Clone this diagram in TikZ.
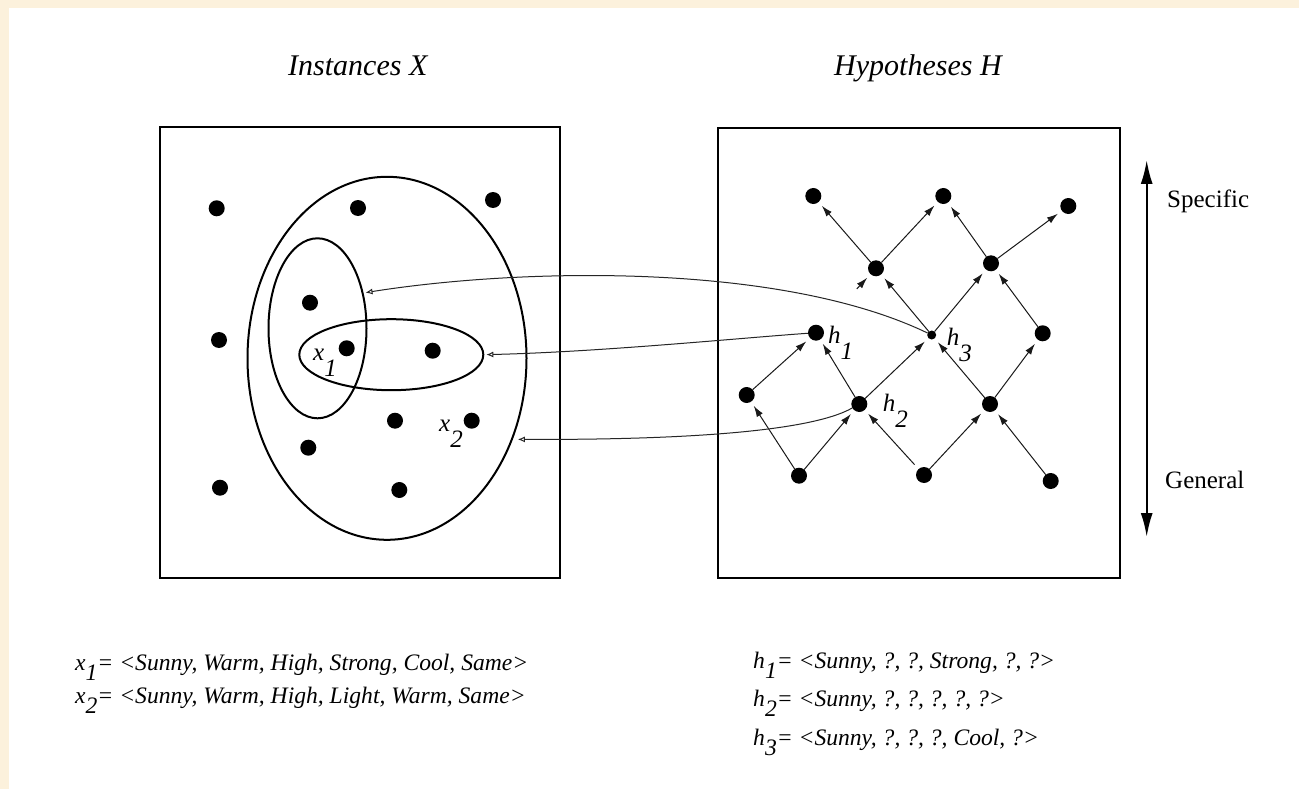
\documentclass[tikz,border=0pt]{standalone}
\usepackage{fontspec}
\setmainfont{Liberation Serif}
\usetikzlibrary{arrows.meta,shapes.geometric,calc}
\definecolor{cream}{RGB}{252,241,220}
\begin{document}
\begin{tikzpicture}[x=1pt,y=1pt,
 dot/.style={circle,fill=black,inner sep=0pt,outer sep=0pt,minimum size=16pt},
 sdot/.style={circle,fill=black,inner sep=0pt,outer sep=0pt,minimum size=9pt},
 frame/.style={draw=black,line width=2.6pt},
 region/.style={draw=black,line width=2pt,ellipse,inner sep=0pt,outer sep=0pt},
 edge/.style={draw=black!90,line width=1pt,-{Latex[length=11pt,width=7pt]},shorten >=5pt},
 link/.style={draw=black!85,line width=1pt,-{Latex[open,length=7pt,width=6pt]},shorten >=3pt},
 lbl/.style={anchor=base west,inner sep=0pt,font=\fontsize{25}{30}\selectfont\itshape},
 title/.style={anchor=base west,inner sep=0pt,font=\fontsize{30}{35}\selectfont\itshape},
 tag/.style={anchor=west,inner sep=0pt,font=\fontsize{25}{30}\selectfont},
 desc/.style={anchor=base west,inner sep=0pt,font=\fontsize{23.6}{28}\selectfont\itshape},
 axis/.style={draw=black,line width=2.2pt,{Latex[length=24pt,width=12pt]}-{Latex[length=24pt,width=12pt]}},
]
\useasboundingbox (0,0) rectangle (1299,-789);
\fill[cream] (0,0) rectangle (1299,-789);
\fill[white] (9,-8) rectangle (1299,-789);

% titles
\node[title] (tX) at (288,-76) {Instances X};
\node[title] (tH) at (834,-76) {Hypotheses H};

% frames
\draw[frame] (160,-127) rectangle (560,-578);
\draw[frame] (718,-128) rectangle (1120,-578);

% instance regions
\node[region,minimum width=279pt,minimum height=363pt] (big) at (387,-358.3) {};
\node[region,minimum width=98pt,minimum height=180pt] (tall) at (317.5,-328.3) {};
\node[region,minimum width=184pt,minimum height=71pt] (hor) at (391.3,-354.7) {};

% instances
\node[dot] (p1) at (216.7,-208.3) {};
\node[dot] (p2) at (358,-208) {};
\node[dot] (p3) at (493,-200) {};
\node[dot] (p4) at (310,-302.7) {};
\node[dot] (p5) at (219,-340) {};
\node[dot] (x1) at (346.7,-348.3) {};
\node[dot] (p6) at (432.7,-350.7) {};
\node[dot] (p7) at (395,-420.7) {};
\node[dot] (x2) at (471.7,-420.7) {};
\node[dot] (p8) at (308.3,-447.7) {};
\node[dot] (p9) at (220,-487.7) {};
\node[dot] (p10) at (399.3,-490) {};
\node[lbl] (x1l) at (313,-360.7) {x\raisebox{-16pt}{1}};
\node[lbl] (x2l) at (439,-431.7) {x\raisebox{-16pt}{2}};

% hypotheses
\node[dot] (A) at (813.3,-196) {};
\node[dot] (B) at (943.3,-196) {};
\node[dot] (C) at (1068.3,-206) {};
\node[dot] (D) at (876,-268.3) {};
\node[dot] (E) at (991,-263.3) {};
\node[dot] (h1) at (816,-332.7) {};
\node[sdot] (h3) at (931.7,-335) {};
\node[dot] (F) at (1042.7,-333.3) {};
\node[dot] (G) at (746.7,-395) {};
\node[dot] (h2) at (859.3,-404) {};
\node[dot] (H) at (990,-404) {};
\node[dot] (I) at (799,-475.7) {};
\node[dot] (J) at (924,-475) {};
\node[dot] (K) at (1050.7,-481) {};
\node[lbl] (h1l) at (828,-343) {h\raisebox{-16pt}{1}};
\node[lbl] (h3l) at (946.7,-345) {h\raisebox{-16pt}{3}};
\node[lbl] (h2l) at (882.7,-411.7) {h\raisebox{-16pt}{2}};

\draw[edge] (D) -- (A);
\draw[edge] (D) -- (B);
\draw[edge] (E) -- (B);
\draw[edge] (E) -- (C);
\draw[edge] (h3) -- (D);
\draw[edge] (h3) -- (E);
\draw[edge] (F) -- (E);
\draw[edge] (H) -- (F);
\draw[edge] (H) -- (h3);
\draw[edge] (h2) -- (h3);
\draw[edge] (G) -- (h1);
\draw[edge] (h2) -- (h1);
\draw[edge] (I) -- (G);
\draw[edge] (I) -- (h2);
\draw[edge,shorten <=6pt] (J) -- (h2);
\draw[edge] (J) -- (H);
\draw[edge] (K) -- (H);
\coordinate (stub) at ($(h1)!0.68!(D)$);
\draw[edge] (stub) -- (D);

% links from hypotheses to instance sets
\draw[link] (h3) .. controls (780,-262) and (520,-268) .. (tall.38);
\draw[link] (h1) .. controls (740,-338) and (600,-352) .. (hor.east);
\draw[link,shorten >=6pt] (h2) .. controls (810,-432) and (680,-440) .. (big.-33);

% specific / general axis
\coordinate (gtop) at (1146.7,-160);
\coordinate (gbot) at (1146.7,-537);
\draw[axis] (gbot) -- (gtop);
\node[tag] (spec) at (1167,-201.7) {Specific};
\node[tag] (gen) at (1165,-480) {General};

% descriptions
\node[desc] (dx1) at (75,-670) {x\raisebox{-10pt}{1}= <Sunny, Warm, High, Strong, Cool, Same>};
\node[desc] (dx2) at (75,-703) {x\raisebox{-10pt}{2}= <Sunny, Warm, High, Light, Warm, Same>};
\node[desc] (dh1) at (753,-668) {h\raisebox{-10pt}{1}= <Sunny, ?, ?, Strong, ?, ?>};
\node[desc] (dh2) at (753,-706) {h\raisebox{-10pt}{2}= <Sunny, ?, ?, ?, ?, ?>};
\node[desc] (dh3) at (753,-745) {h\raisebox{-10pt}{3}= <Sunny, ?, ?, ?, Cool, ?>};
\end{tikzpicture}
\end{document}
